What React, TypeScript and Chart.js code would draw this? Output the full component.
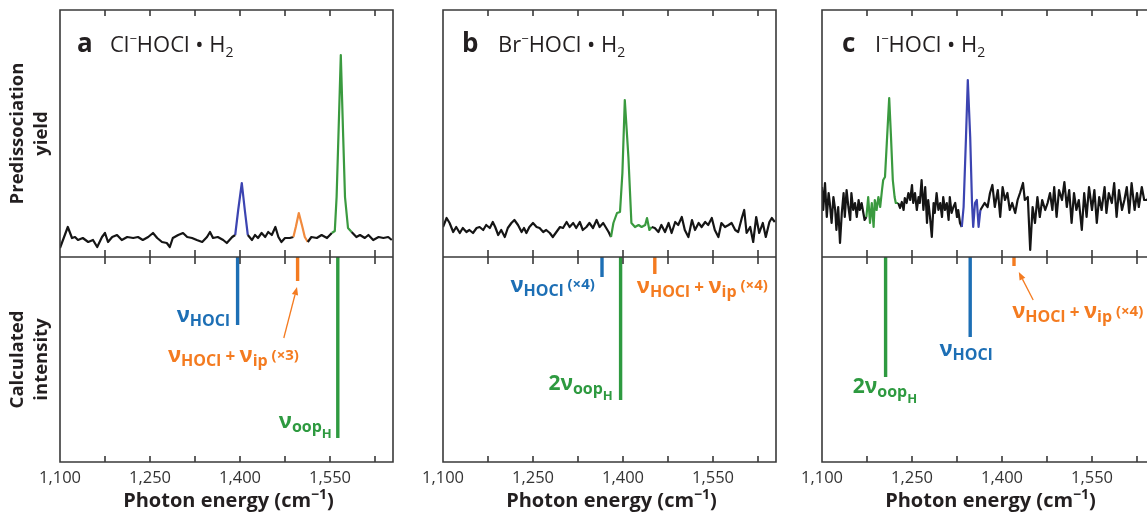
import React, { useEffect, useRef } from 'react';
import { Chart, registerables } from 'chart.js';

Chart.register(...registerables);

const FONT = '"Open Sans", "Noto Sans", "DejaVu Sans", sans-serif';

// ---------- axes ----------
const X_MIN = 1100;
const X_MAX = 1655;
const X_TICKS = [1100, 1175, 1250, 1325, 1400, 1475, 1550, 1625];
const X_TICK_LABELS = ['1,100', '', '1,250', '', '1,400', '', '1,550', ''];
const YIELD_MAX = 247;
const INTENSITY_MAX = 205;

// ---------- panel a : Cl-HOCl·H2 ----------
const A_ENERGY = [1100, 1113, 1120, 1125, 1130, 1138, 1147, 1155, 1162, 1170, 1175, 1180, 1187, 1195, 1203, 1212, 1222, 1230, 1238, 1247, 1255, 1262, 1270, 1278, 1283, 1288, 1297, 1305, 1312, 1320, 1328, 1337, 1345, 1350, 1355, 1363, 1372, 1378, 1387, 1392, 1397, 1403, 1408, 1413, 1420, 1425, 1430, 1436, 1442, 1447, 1453, 1459, 1464, 1469, 1475, 1483, 1489, 1493, 1498, 1504, 1508, 1513, 1519, 1528, 1536, 1545, 1553, 1558, 1561, 1564, 1568, 1572, 1575, 1580, 1586, 1594, 1600, 1608, 1614, 1622, 1631, 1639, 1647, 1653];
const A_YIELD = [9, 30, 19, 20, 17, 19, 15, 17, 10, 20, 24, 15, 20, 22, 17, 20, 19, 20, 17, 20, 24, 19, 15, 14, 10, 19, 22, 24, 20, 19, 17, 15, 20, 25, 19, 20, 17, 14, 20, 22, 47, 74, 47, 22, 17, 22, 19, 24, 20, 25, 22, 30, 20, 15, 19, 19, 20, 30, 44, 30, 20, 15, 20, 19, 22, 19, 24, 26, 60, 120, 202, 120, 60, 29, 25, 20, 22, 19, 22, 17, 20, 19, 20, 17];
const A_BLUE_RANGE = [1392, 1413];
const A_ORANGE_RANGE = [1489, 1513];
const A_GREEN_RANGE = [1553, 1586];
const A_STICK_ENERGY = [1396, 1496, 1563];
const A_STICK_INTENSITY = [68, 24, 181];

// ---------- panel b : Br-HOCl·H2 ----------
const B_ENERGY = [1100, 1106, 1111, 1117, 1122, 1128, 1133, 1139, 1144, 1150, 1156, 1161, 1167, 1172, 1178, 1183, 1187, 1192, 1197, 1203, 1208, 1214, 1219, 1225, 1231, 1235, 1239, 1244, 1250, 1256, 1261, 1267, 1272, 1278, 1283, 1289, 1295, 1300, 1306, 1311, 1317, 1322, 1328, 1333, 1339, 1344, 1350, 1356, 1361, 1367, 1372, 1376, 1380, 1384, 1390, 1395, 1399, 1403, 1409, 1414, 1420, 1426, 1431, 1437, 1440, 1444, 1448, 1453, 1459, 1464, 1470, 1476, 1481, 1487, 1492, 1498, 1503, 1509, 1515, 1520, 1526, 1531, 1537, 1542, 1548, 1553, 1559, 1564, 1570, 1576, 1581, 1587, 1592, 1598, 1602, 1606, 1612, 1617, 1622, 1627, 1633, 1638, 1644, 1648, 1653];
const B_YIELD = [30, 39, 34, 25, 30, 24, 29, 25, 27, 24, 29, 30, 27, 32, 29, 35, 30, 22, 27, 20, 29, 34, 37, 32, 25, 29, 24, 30, 34, 30, 29, 25, 27, 24, 20, 25, 30, 29, 35, 30, 34, 29, 35, 27, 30, 34, 29, 37, 30, 34, 29, 25, 20, 34, 44, 45, 84, 157, 100, 34, 30, 32, 30, 32, 39, 27, 30, 29, 25, 32, 25, 34, 24, 35, 32, 40, 27, 20, 37, 27, 34, 30, 35, 32, 39, 27, 20, 34, 30, 32, 34, 27, 25, 39, 47, 24, 30, 15, 40, 24, 34, 20, 35, 39, 35];
const B_GREEN_RANGE = [1380, 1448];
const B_STICK_ENERGY = [1365, 1396, 1453];
const B_STICK_INTENSITY = [20, 143, 17];

// ---------- panel c : I-HOCl·H2 ----------
const C_ENERGY = [1100, 1102, 1105, 1108, 1111, 1113, 1116, 1119, 1122, 1124, 1127, 1130, 1133, 1136, 1138, 1141, 1144, 1147, 1149, 1152, 1155, 1158, 1161, 1163, 1166, 1171, 1174, 1177, 1180, 1183, 1186, 1188, 1191, 1194, 1197, 1200, 1202, 1205, 1208, 1212, 1215, 1218, 1221, 1223, 1227, 1230, 1233, 1236, 1238, 1241, 1244, 1247, 1250, 1252, 1255, 1258, 1261, 1263, 1266, 1269, 1272, 1275, 1277, 1280, 1283, 1286, 1288, 1291, 1294, 1297, 1300, 1302, 1305, 1308, 1311, 1313, 1316, 1319, 1322, 1325, 1327, 1330, 1333, 1336, 1340, 1343, 1347, 1350, 1352, 1355, 1358, 1361, 1364, 1371, 1376, 1380, 1384, 1388, 1393, 1397, 1401, 1405, 1409, 1413, 1417, 1422, 1426, 1430, 1435, 1438, 1443, 1447, 1451, 1455, 1459, 1463, 1467, 1472, 1476, 1480, 1484, 1487, 1491, 1495, 1500, 1504, 1508, 1512, 1516, 1520, 1524, 1528, 1533, 1537, 1541, 1545, 1550, 1554, 1558, 1562, 1566, 1571, 1574, 1578, 1583, 1587, 1591, 1595, 1600, 1604, 1608, 1612, 1616, 1621, 1625, 1628, 1633, 1637, 1641, 1648, 1655];
const C_YIELD = [70, 47, 74, 40, 64, 54, 34, 60, 47, 27, 50, 14, 44, 64, 40, 67, 50, 37, 64, 47, 54, 40, 57, 47, 54, 37, 40, 60, 34, 54, 30, 57, 47, 60, 50, 67, 77, 80, 114, 159, 120, 77, 60, 54, 54, 49, 55, 47, 59, 54, 64, 57, 72, 54, 64, 47, 60, 54, 77, 47, 70, 34, 57, 40, 20, 54, 44, 64, 47, 54, 40, 60, 47, 54, 37, 60, 44, 50, 54, 40, 47, 34, 30, 50, 120, 177, 120, 54, 30, 54, 57, 30, 47, 54, 50, 64, 72, 50, 67, 40, 70, 57, 64, 47, 54, 44, 57, 64, 74, 57, 60, 7, 50, 34, 60, 40, 57, 47, 54, 64, 47, 70, 40, 67, 57, 75, 50, 67, 34, 64, 47, 57, 27, 64, 40, 70, 47, 67, 34, 60, 47, 70, 44, 64, 54, 74, 40, 67, 47, 57, 70, 44, 74, 47, 64, 50, 70, 57, 57, 60, 55];
const C_GREEN_RANGE = [1174, 1227];
const C_BLUE_RANGE = [1333, 1364];
const C_STICK_ENERGY = [1206, 1347, 1420];
const C_STICK_INTENSITY = [120, 80, 9];

// ---------- styles ----------
const TEXT = '#231f20';
const FRAME = '#3a3a3a';
const TRACE_BLACK = '#151515';
const TRACE_BLUE = '#3c44b1';
const TRACE_ORANGE = '#f18a3d';
const TRACE_GREEN = '#3a9a3f';
const BLUE = '#1d6fb5';
const ORANGE = '#f47b20';
const GREEN = '#2e9a40';

type Run = { t: string; size: number; bold?: boolean; dy?: number };
const NU: Run = { t: 'ν', size: 22, bold: true };
const TWO_NU: Run = { t: '2ν', size: 21, bold: true };
const PLUS: Run = { t: ' + ', size: 17, bold: true };
const sub = (t: string): Run => ({ t, size: 16, bold: true, dy: 4 });
const subsub = (t: string): Run => ({ t, size: 13, bold: true, dy: 10 });
const mult = (t: string, dy = -2): Run => ({ t, size: 15, bold: true, dy });

function drawRuns(ctx: CanvasRenderingContext2D, runs: Run[], x: number, y: number, align: string, color: string) {
  const fontOf = (r: Run) => `${r.bold ? 'bold ' : ''}${r.size}px ${FONT}`;
  const widths = runs.map((r) => {
    ctx.font = fontOf(r);
    return ctx.measureText(r.t).width;
  });
  const total = widths.reduce((a, b) => a + b, 0);
  let cx = align === 'left' ? x : align === 'right' ? x - total : x - total / 2;
  ctx.fillStyle = color;
  ctx.textAlign = 'left';
  ctx.textBaseline = 'alphabetic';
  runs.forEach((r, i) => {
    ctx.font = fontOf(r);
    ctx.fillText(r.t, cx, y + (r.dy || 0));
    cx += widths[i];
  });
}

function drawArrow(ctx: CanvasRenderingContext2D, x0: number, y0: number, x1: number, y1: number, color: string) {
  const ang = Math.atan2(y1 - y0, x1 - x0);
  const L = 8, W = 3.2;
  const bx = x1 - L * Math.cos(ang), by = y1 - L * Math.sin(ang);
  ctx.strokeStyle = color;
  ctx.fillStyle = color;
  ctx.lineWidth = 1.3;
  ctx.beginPath();
  ctx.moveTo(x0, y0);
  ctx.lineTo(bx, by);
  ctx.stroke();
  ctx.beginPath();
  ctx.moveTo(x1, y1);
  ctx.lineTo(bx + W * Math.sin(ang), by - W * Math.cos(ang));
  ctx.lineTo(bx - W * Math.sin(ang), by + W * Math.cos(ang));
  ctx.closePath();
  ctx.fill();
}

type Note = { runs: Run[]; x: number; y: number; align: string; color: string };
type Arrow = { x0: number; y0: number; x1: number; y1: number; color: string };
type Range = { range: number[]; color: string };
type PanelSpec = {
  key: string;
  canvasLeft: number;
  axisWidth: number;
  padRight: number;
  letter: string;
  formula: Run[];
  letterDx: number;
  formulaDx: number;
  energy: number[];
  yieldVals: number[];
  ranges: Range[];
  stickEnergy: number[];
  stickIntensity: number[];
  stickColors: string[];
  notes: Note[];
  arrows: Arrow[];
  yTitles: boolean;
};

const formula = (ion: string): Run[] => [
  { t: ion, size: 22 },
  { t: '−', size: 13, dy: -9 },
  { t: 'HOCl • H', size: 22 },
  { t: '2', size: 14, dy: 5 },
];

const PANELS: PanelSpec[] = [
  {
    key: 'a', canvasLeft: 0, axisWidth: 60, padRight: 7, letter: 'a', formula: formula('Cl'), letterDx: 17, formulaDx: 50,
    energy: A_ENERGY, yieldVals: A_YIELD,
    ranges: [{ range: A_BLUE_RANGE, color: TRACE_BLUE }, { range: A_ORANGE_RANGE, color: TRACE_ORANGE }, { range: A_GREEN_RANGE, color: TRACE_GREEN }],
    stickEnergy: A_STICK_ENERGY, stickIntensity: A_STICK_INTENSITY, stickColors: [BLUE, ORANGE, GREEN],
    notes: [
      { runs: [NU, sub('HOCl')], x: 1383, y: 65, align: 'right', color: BLUE },
      { runs: [NU, sub('HOCl'), PLUS, NU, sub('ip'), mult(' (×3)')], x: 1389, y: 105, align: 'center', color: ORANGE },
      { runs: [NU, sub('oop'), subsub('H')], x: 1553, y: 171, align: 'right', color: GREEN },
    ],
    arrows: [{ x0: 1473, y0: 81, x1: 1495, y1: 30, color: ORANGE }],
    yTitles: true,
  },
  {
    key: 'b', canvasLeft: 400, axisWidth: 43, padRight: 24, letter: 'b', formula: formula('Br'), letterDx: 19, formulaDx: 55,
    energy: B_ENERGY, yieldVals: B_YIELD,
    ranges: [{ range: B_GREEN_RANGE, color: TRACE_GREEN }],
    stickEnergy: B_STICK_ENERGY, stickIntensity: B_STICK_INTENSITY, stickColors: [BLUE, GREEN, ORANGE],
    notes: [
      { runs: [NU, sub('HOCl'), mult(' (×4)', -3)], x: 1353, y: 35, align: 'right', color: BLUE },
      { runs: [NU, sub('HOCl'), PLUS, NU, sub('ip'), mult(' (×4)', -3)], x: 1423, y: 36, align: 'left', color: ORANGE },
      { runs: [TWO_NU, sub('oop'), subsub('H')], x: 1383, y: 133, align: 'right', color: GREEN },
    ],
    arrows: [],
    yTitles: false,
  },
  {
    key: 'c', canvasLeft: 790, axisWidth: 32, padRight: 35, letter: 'c', formula: formula('I'), letterDx: 20, formulaDx: 53,
    energy: C_ENERGY, yieldVals: C_YIELD,
    ranges: [{ range: C_GREEN_RANGE, color: TRACE_GREEN }, { range: C_BLUE_RANGE, color: TRACE_BLUE }],
    stickEnergy: C_STICK_ENERGY, stickIntensity: C_STICK_INTENSITY, stickColors: [GREEN, BLUE, ORANGE],
    notes: [
      { runs: [NU, sub('HOCl'), PLUS, NU, sub('ip'), mult(' (×4)')], x: 1417, y: 61, align: 'left', color: ORANGE },
      { runs: [NU, sub('HOCl')], x: 1340, y: 99, align: 'center', color: BLUE },
      { runs: [TWO_NU, sub('oop'), subsub('H')], x: 1205, y: 136, align: 'center', color: GREEN },
    ],
    arrows: [{ x0: 1452, y0: 43, x1: 1428, y1: 15, color: ORANGE }],
    yTitles: false,
  },
];

function decorPlugin(spec: PanelSpec) {
  return {
    id: 'decor_' + spec.key,
    afterDraw(chart: any) {
      const { ctx, chartArea: ca, scales } = chart;
      const xs = scales.x;
      const y2 = scales.y2;
      const divY = y2.top;
      ctx.save();
      // frame, divider and inward ticks
      ctx.strokeStyle = FRAME;
      ctx.lineWidth = 1.6;
      ctx.beginPath();
      ctx.rect(ca.left, ca.top, ca.right - ca.left, ca.bottom - ca.top);
      ctx.moveTo(ca.left, divY);
      ctx.lineTo(ca.right, divY);
      for (const t of xs.ticks) {
        const px = xs.getPixelForValue(t.value);
        ctx.moveTo(px, ca.top);
        ctx.lineTo(px, ca.top + 6);
        ctx.moveTo(px, divY - 7);
        ctx.lineTo(px, divY + 7);
        ctx.moveTo(px, ca.bottom - 6);
        ctx.lineTo(px, ca.bottom);
      }
      ctx.stroke();

      // panel title
      drawRuns(ctx, [{ t: spec.letter, size: 26, bold: true }], ca.left + spec.letterDx, ca.top + 42, 'left', TEXT);
      drawRuns(ctx, spec.formula, ca.left + spec.formulaDx, ca.top + 42, 'left', TEXT);

      // annotations
      for (const n of spec.notes) {
        drawRuns(ctx, n.runs, xs.getPixelForValue(n.x), y2.getPixelForValue(n.y), n.align, n.color);
      }
      for (const a of spec.arrows) {
        drawArrow(ctx, xs.getPixelForValue(a.x0), y2.getPixelForValue(a.y0), xs.getPixelForValue(a.x1), y2.getPixelForValue(a.y1), a.color);
      }

      // x axis title
      drawRuns(
        ctx,
        [
          { t: 'Photon energy (cm', size: 20, bold: true },
          { t: '−1', size: 14, bold: true, dy: -8 },
          { t: ')', size: 20, bold: true },
        ],
        (ca.left + ca.right) / 2 + 2,
        ca.bottom + 45,
        'center',
        TEXT
      );
      ctx.restore();
    },
  };
}

function buildConfig(spec: PanelSpec): any {
  const ranges = spec.ranges;
  const trace = {
    data: spec.energy.map((x, i) => ({ x, y: spec.yieldVals[i] })),
    yAxisID: 'y',
    borderColor: TRACE_BLACK,
    borderWidth: 2.2,
    pointRadius: 0,
    tension: 0,
    borderJoinStyle: 'round',
    segment: {
      borderColor: (c: any) => {
        const a = c.p0.parsed.x;
        const b = c.p1.parsed.x;
        for (const r of ranges) if (a >= r.range[0] && b <= r.range[1]) return r.color;
        return undefined;
      },
    },
    order: 1,
  };
  const sticks = spec.stickEnergy.map((e, i) => ({
    data: [
      { x: e, y: 0 },
      { x: e, y: spec.stickIntensity[i] },
    ],
    yAxisID: 'y2',
    borderColor: spec.stickColors[i],
    borderWidth: 3.4,
    borderCapStyle: 'butt',
    pointRadius: 0,
    order: 0,
  }));
  const yTitleFont = { family: FONT, size: 18.5, weight: 'bold', lineHeight: 1.3 };
  return {
    type: 'line',
    data: { datasets: [trace, ...sticks] },
    options: {
      animation: false,
      responsive: false,
      devicePixelRatio: 1,
      layout: { padding: { top: 10, right: spec.padRight, left: 0, bottom: 0 } },
      plugins: { legend: { display: false }, tooltip: { enabled: false } },
      scales: {
        x: {
          type: 'linear',
          position: 'bottom',
          min: X_MIN,
          max: X_MAX,
          grid: { display: false, drawTicks: false },
          border: { display: false },
          afterBuildTicks: (s: any) => {
            s.ticks = X_TICKS.map((v) => ({ value: v }));
          },
          ticks: {
            autoSkip: false,
            maxRotation: 0,
            minRotation: 0,
            padding: 6,
            color: '#333333',
            font: { family: FONT, size: 16.5 },
            callback: (_v: any, i: number) => X_TICK_LABELS[i],
          },
          afterFit: (s: any) => {
            s.height = 50;
          },
        },
        y: {
          type: 'linear',
          position: 'left',
          stack: 'panel',
          stackWeight: YIELD_MAX,
          weight: 2,
          min: 0,
          max: YIELD_MAX,
          grid: { display: false, drawTicks: false },
          border: { display: false },
          ticks: { display: false },
          title: {
            display: spec.yTitles,
            text: ['Predissociation', 'yield'],
            color: TEXT,
            font: yTitleFont,
            padding: { top: 6, bottom: 0 },
          },
          afterFit: (s: any) => {
            s.width = spec.axisWidth;
          },
        },
        y2: {
          type: 'linear',
          position: 'left',
          stack: 'panel',
          stackWeight: INTENSITY_MAX,
          weight: 1,
          reverse: true,
          min: 0,
          max: INTENSITY_MAX,
          grid: { display: false, drawTicks: false },
          border: { display: false },
          ticks: { display: false },
          title: {
            display: spec.yTitles,
            text: ['Calculated', 'intensity'],
            color: TEXT,
            font: yTitleFont,
            padding: { top: 6, bottom: 0 },
          },
          afterFit: (s: any) => {
            s.width = spec.axisWidth;
          },
        },
      },
    },
    plugins: [decorPlugin(spec)],
  };
}

function PanelChart({ spec }: { spec: PanelSpec }) {
  const ref = useRef<HTMLCanvasElement>(null);
  useEffect(() => {
    const chart = new Chart(ref.current as HTMLCanvasElement, buildConfig(spec));
    return () => chart.destroy();
  }, [spec]);
  return (
    <canvas
      ref={ref}
      width={400}
      height={512}
      style={{ position: 'absolute', left: spec.canvasLeft, top: 0, width: 400, height: 512 }}
    />
  );
}

export default function App() {
  return (
    <div
      style={{
        position: 'fixed',
        left: 0,
        top: 0,
        width: 1147,
        height: 512,
        overflow: 'hidden',
        background: '#ffffff',
      }}
    >
      {PANELS.map((p) => (
        <PanelChart key={p.key} spec={p} />
      ))}
    </div>
  );
}
